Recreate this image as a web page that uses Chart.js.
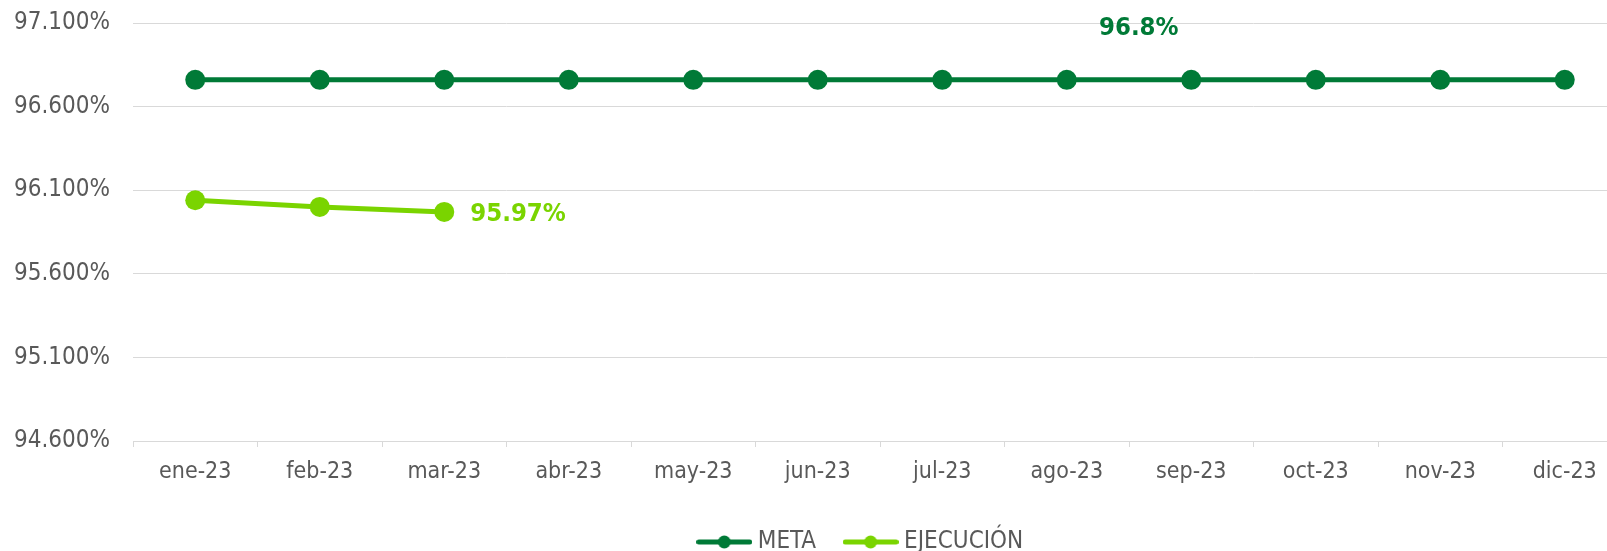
<!DOCTYPE html>
<html><head><meta charset="utf-8">
<script src="https://cdn.jsdelivr.net/npm/chart.js@4/dist/chart.umd.min.js"></script>
<style>
html,body{margin:0;padding:0;background:#fff;overflow:hidden;width:1607px;height:551px;}
#wrap{position:relative;width:1760px;height:564px;}
</style></head><body>
<div id="wrap"><canvas id="c" width="1760" height="564"></canvas></div>
<script>
// ---- data ----
const categories = ['ene-23','feb-23','mar-23','abr-23','may-23','jun-23','jul-23','ago-23','sep-23','oct-23','nov-23','dic-23'];
const metaValues = [96.76, 96.76, 96.76, 96.76, 96.76, 96.76, 96.76, 96.76, 96.76, 96.76, 96.76, 96.76];
const ejecucionValues = [96.04, 96.00, 95.97, null, null, null, null, null, null, null, null, null];
const yTickValues = [94.6, 95.1, 95.6, 96.1, 96.6, 97.1];
const seriesNames = ['META', 'EJECUCIÓN'];
const metaLabelIndex = 7;
const metaLabelText = '96.8%';
const ejecLabelIndex = 2;
const ejecLabelText = '95.97%';

// ---- style ----
const FONT = "'DejaVu Sans Condensed', 'DejaVu Sans', sans-serif";
const DARK = '#007A37';
const LIME = '#7AD400';
const TEXT = '#595959';
const GRID = '#d9d9d9';
const LEGEND_SHIFT = 42;

function legendImg(color){
  const c = document.createElement('canvas'); c.width = 56; c.height = 20;
  const g = c.getContext('2d');
  g.strokeStyle = color; g.lineWidth = 5; g.lineCap = 'round';
  g.beginPath(); g.moveTo(2.5, 10); g.lineTo(53.5, 10); g.stroke();
  g.fillStyle = color; g.beginPath(); g.arc(28, 10, 6.5, 0, Math.PI*2); g.fill();
  return c;
}
const legendImgs = [legendImg(DARK), legendImg(LIME)];

const labelPlugin = {
  id: 'pointLabels',
  afterDatasetsDraw(chart){
    const ctx = chart.ctx;
    ctx.save();
    ctx.font = 'bold 25.5px ' + FONT;
    ctx.textBaseline = 'middle';
    const m = chart.getDatasetMeta(0).data[metaLabelIndex];
    ctx.fillStyle = DARK; ctx.textAlign = 'center';
    ctx.fillText(metaLabelText, m.x + 72, m.y - 51);
    const e = chart.getDatasetMeta(1).data[ejecLabelIndex];
    ctx.fillStyle = LIME; ctx.textAlign = 'left';
    ctx.fillText(ejecLabelText, e.x + 26, e.y + 2);
    ctx.restore();
  }
};
const legendShift = {
  id: 'legendShift',
  afterLayout(chart){
    if (chart.legend){ chart.legend.left += LEGEND_SHIFT; chart.legend.right += LEGEND_SHIFT; }
  }
};

new Chart(document.getElementById('c'), {
  type: 'line',
  data: {
    labels: categories,
    datasets: [
      { label: seriesNames[0], data: metaValues, borderColor: DARK, backgroundColor: DARK,
        borderWidth: 5, pointRadius: 10, pointHoverRadius: 10, pointBorderWidth: 0, pointBackgroundColor: DARK, tension: 0 },
      { label: seriesNames[1], data: ejecucionValues, borderColor: LIME, backgroundColor: LIME,
        borderWidth: 5, pointRadius: 10, pointHoverRadius: 10, pointBorderWidth: 0, pointBackgroundColor: LIME, tension: 0, spanGaps: false }
    ]
  },
  options: {
    responsive: false,
    animation: false,
    devicePixelRatio: 1,
    layout: { padding: { left: 15, right: 1760 - 1627, top: 23, bottom: 0 } },
    plugins: {
      tooltip: { enabled: false },
      legend: {
        position: 'bottom',
        labels: {
          usePointStyle: true,
          pointStyleWidth: 43,
          padding: 33,
          color: TEXT,
          font: { family: FONT, size: 24 },
          generateLabels(chart){
            const items = Chart.defaults.plugins.legend.labels.generateLabels(chart);
            items.forEach((it, i) => { it.pointStyle = legendImgs[i]; it.fontColor = TEXT; });
            return items;
          }
        }
      }
    },
    scales: {
      x: {
        offset: true,
        grid: { display: true, drawOnChartArea: false, drawTicks: true, tickLength: 6, offset: true, color: GRID, lineWidth: 1 },
        border: { display: true, color: GRID, width: 1 },
        ticks: { color: TEXT, font: { family: FONT, size: 23 }, padding: 11, maxRotation: 0, autoSkip: false },
        afterFit(scale){ scale.height = 564 - 67 - 441; }
      },
      y: {
        min: 94.6, max: 97.1,
        afterBuildTicks(scale){ scale.ticks = yTickValues.map(v => ({ value: v })); },
        afterFit(scale){ scale.width = 118; scale.paddingTop = 0; scale.paddingBottom = 0; },
        grid: { color: GRID, lineWidth: 1, drawTicks: false },
        border: { display: false },
        ticks: { color: TEXT, font: { family: FONT, size: 24 }, padding: 23,
          callback: (v) => Number(v).toFixed(3) + '%' }
      }
    }
  },
  plugins: [labelPlugin, legendShift]
});
</script>
</body></html>
